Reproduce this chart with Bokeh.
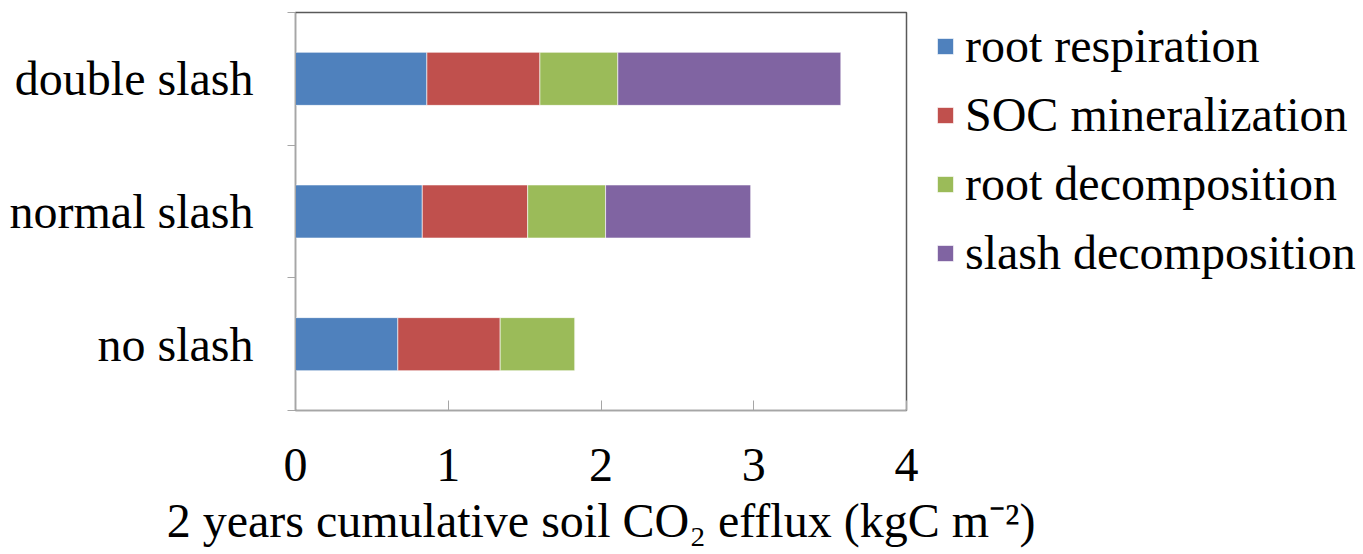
from bokeh.plotting import figure
from bokeh.models import ColumnDataSource, FixedTicker, Legend, Range1d
from bokeh.embed import file_html
from bokeh.resources import INLINE

categories = ["no slash", "normal slash", "double slash"]
series = ["root respiration", "SOC mineralization", "root decomposition", "slash decomposition"]
root_respiration = [0.67, 0.83, 0.86]
soc_mineralization = [0.67, 0.69, 0.74]
root_decomposition = [0.49, 0.51, 0.51]
slash_decomposition = [0.0, 0.95, 1.46]
colors = ["#4F81BD", "#C0504D", "#9BBB59", "#8064A2"]
x_ticks = [0, 1, 2, 3, 4]

FONT = "Liberation Serif"

keys = ["rr", "soc", "rd", "sd"]
ypos = [i + 0.5 for i in range(len(categories))]
source = ColumnDataSource(dict(y=ypos, rr=root_respiration, soc=soc_mineralization,
                               rd=root_decomposition, sd=slash_decomposition))

p = figure(frame_width=611, frame_height=398, output_backend="svg", toolbar_location=None,
           x_range=Range1d(0, 4), y_range=Range1d(0, 3),
           min_border_left=295, min_border_right=0, min_border_top=12, min_border_bottom=144)

renderers = p.hbar_stack(keys, y="y", height=0.4, color=colors, source=source,
                         line_color="white", line_width=1, line_alpha=0.6)

p.grid.visible = False
p.outline_line_color = "#595959"
p.outline_line_width = 1.5
p.background_fill_color = "white"
p.border_fill_color = "white"

# x axis
xa = p.xaxis[0]
xa.ticker = FixedTicker(ticks=x_ticks, minor_ticks=[])
xa.major_tick_in = 10
xa.major_tick_out = 0
xa.minor_tick_in = 0
xa.minor_tick_out = 0
xa.axis_line_color = "#a6a6a6"
xa.major_tick_line_color = "#a6a6a6"
xa.major_label_text_font = FONT
xa.major_label_text_font_size = "48px"
xa.major_label_text_color = "black"
xa.major_label_standoff = 38
xa.axis_label = "2 years cumulative soil CO\u2082 efflux (kgC m\u207b\u00b2)"
xa.axis_label_text_font = FONT
xa.axis_label_text_font_size = "48px"
xa.axis_label_text_font_style = "normal"
xa.axis_label_text_color = "black"
xa.axis_label_standoff = 10

# y axis
ya = p.yaxis[0]
ya.ticker = FixedTicker(ticks=ypos, minor_ticks=[0, 1, 2, 3])
ya.major_label_overrides = {y: c for y, c in zip(ypos, categories)}
ya.major_tick_in = 0
ya.major_tick_out = 0
ya.minor_tick_in = 0
ya.minor_tick_out = 8
ya.axis_line_color = "#a6a6a6"
ya.minor_tick_line_color = "#a6a6a6"
ya.major_label_text_font = FONT
ya.major_label_text_font_size = "48px"
ya.major_label_text_color = "black"
ya.major_label_standoff = 34

legend = Legend(items=[(s, [r]) for s, r in zip(series, renderers)],
                location=(29, 130), orientation="vertical")
legend.label_text_font = FONT
legend.label_text_font_size = "48px"
legend.label_text_color = "black"
legend.glyph_width = 20
legend.glyph_height = 20
legend.label_standoff = 10
legend.spacing = 14
legend.padding = 6
legend.margin = 25
legend.border_line_color = None
legend.background_fill_alpha = 0
p.add_layout(legend, "right")

open("out.html", "w").write(file_html(p, INLINE))
